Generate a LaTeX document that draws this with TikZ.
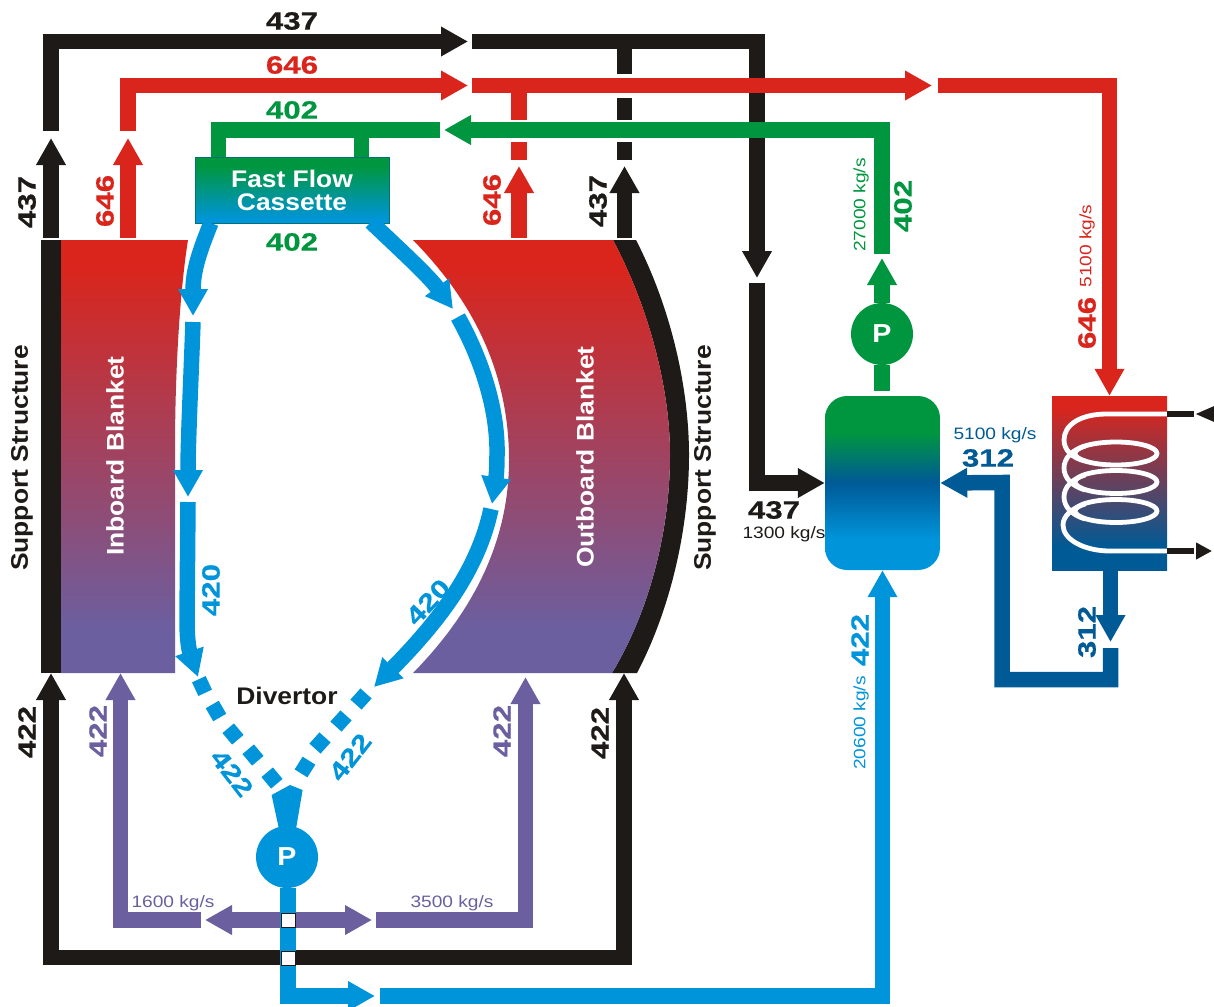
\documentclass[tikz,border=0pt]{standalone}
\usepackage{fontspec}
\setmainfont{Liberation Sans}
\newfontfamily\numf[BoldFeatures={FakeStretch=1.25,FakeBold=0.6}]{Liberation Sans}
\newfontfamily\labf[BoldFeatures={FakeStretch=1.1}]{Liberation Sans}
\newfontfamily\smlf[FakeStretch=1.16]{Liberation Sans}
\usetikzlibrary{arrows.meta}
\definecolor{cred}{HTML}{DA251C}
\definecolor{cblk}{HTML}{1D1A18}
\definecolor{cgrn}{HTML}{009640}
\definecolor{clbl}{HTML}{0095DB}
\definecolor{cdbl}{HTML}{005A96}
\definecolor{cpur}{HTML}{6B5FA0}
\pgfdeclareverticalshading{blanketsh}{100bp}{color(0bp)=(cpur); color(30bp)=(cpur); color(72bp)=(cred); color(100bp)=(cred)}
\pgfdeclareverticalshading{cassettesh}{100bp}{color(0bp)=(clbl); color(27bp)=(clbl); color(68bp)=(cgrn); color(100bp)=(cgrn)}
\pgfdeclareverticalshading{tanksh}{100bp}{color(0bp)=(clbl); color(33.6bp)=(clbl); color(50.3bp)=(cdbl); color(64.4bp)=(cgrn); color(100bp)=(cgrn)}
\pgfdeclareverticalshading{hxsh}{100bp}{color(0bp)=(cdbl); color(31.6bp)=(cdbl); color(71.8bp)=(cred); color(100bp)=(cred)}
\tikzset{
  pipe/.style={line width=15.5pt,line join=miter,line cap=butt},
  tipped/.style={pipe,-{Triangle[length=27pt,width=28pt]}},
  both/.style={pipe,{Triangle[length=27pt,width=28pt]}-{Triangle[length=27pt,width=28pt]}},
  num/.style={font=\numf\bfseries\fontsize{25}{25}\selectfont,inner sep=0pt},
  lab/.style={font=\labf\bfseries\fontsize{24}{24}\selectfont,inner sep=0pt},
  sml/.style={font=\smlf\fontsize{16.5}{17}\selectfont,inner sep=0pt},
  pump/.style={circle,minimum size=62pt,inner sep=0pt,text=white,font=\labf\bfseries\fontsize{26}{26}\selectfont},
  dia/.style={fill=clbl,minimum size=15pt,inner sep=0pt},
  gap/.style={fill=white,draw=cblk,line width=0.3pt,minimum size=14.5pt,inner sep=0pt},
  coil/.style={white,line width=4.8pt,line join=round},
}
\begin{document}
\begin{tikzpicture}[x=1pt,y=-1pt]
\useasboundingbox (0,0) rectangle (1214,1006);
% blankets
\fill[cblk] (41,240) rectangle (61,673);
\shade[shading=blanketsh] (61,240) -- (188,240) .. controls (180,290) and (175,370) .. (175,450) -- (175,673) -- (61,673) -- cycle;
\fill[cblk] (613,240) -- (636,240) .. controls (672,310) and (689,390) .. (689,455) .. controls (689,530) and (670,610) .. (637,673) -- (612,673) .. controls (650,610) and (670,530) .. (670,455) .. controls (670,390) and (650,310) .. (613,240) -- cycle;
\shade[shading=blanketsh] (413,240) .. controls (462,290) and (509,360) .. (509,460) .. controls (509,550) and (465,620) .. (413,673) -- (612,673) .. controls (650,610) and (670,530) .. (670,455) .. controls (670,390) and (650,310) .. (613,240) -- cycle;
% equipment
\node[shading=cassettesh,draw=cdbl!60!cgrn,line width=0.6pt,minimum width=194pt,minimum height=66pt,inner sep=0pt,align=center,text=white,font=\labf\bfseries\fontsize{24}{23}\selectfont] (ffc) at (292,190) {Fast Flow\\Cassette};
\node[shading=tanksh,rounded corners=22pt,minimum width=115pt,minimum height=174pt,inner sep=0pt] (tank) at (882.5,483) {};
\node[shading=hxsh,minimum width=115pt,minimum height=174pt,inner sep=0pt] (hx) at (1109.5,483) {};
\node[pump,fill=cgrn] (pg) at (882,334) {P};
\node[pump,fill=clbl] (pb) at (287,857) {P};
% coil
\draw[coil] (1116,453.5) ellipse [x radius=41,y radius=11.5];
\draw[coil] (1116,482) ellipse [x radius=41,y radius=11.5];
\draw[coil] (1116,511) ellipse [x radius=41,y radius=11.5];
\draw[coil] (1167,414) -- (1107,414) .. controls (1080,414) and (1064,425) .. (1064,440) .. controls (1064,450) and (1072,458) .. (1085,461);
\draw[coil] (1085,446) .. controls (1072,450) and (1064,458) .. (1064,468) .. controls (1064,478) and (1072,486) .. (1085,490);
\draw[coil] (1085,475) .. controls (1072,479) and (1064,487) .. (1064,497) .. controls (1064,507) and (1072,515) .. (1085,519);
\draw[coil] (1085,504) .. controls (1072,508) and (1063,516) .. (1063,525) .. controls (1063,540) and (1085,551) .. (1110,551) -- (1167,551);
% named ends
\coordinate (bA) at (51,131);
\coordinate (bB) at (51,41.5);
\coordinate (bC) at (468,41.5);
\coordinate (bD) at (472,41.5);
\coordinate (bE) at (757,41.5);
\coordinate (bF) at (757,278);
\coordinate (bG) at (757,283);
\coordinate (bI) at (51,238);
\coordinate (bJ) at (51,138);
\coordinate (bbL) at (51,673);
\coordinate (bbR) at (624,673);
\coordinate (bbM) at (51,957.5);
\coordinate (bbN) at (624,957.5);
\coordinate (rA) at (128,131);
\coordinate (rB) at (128,85.5);
\coordinate (rC) at (468,85.5);
\coordinate (rD) at (472,85.5);
\coordinate (rE) at (932,85.5);
\coordinate (rF) at (938,85.5);
\coordinate (rG) at (1109.5,85.5);
\coordinate (rI) at (128,238);
\coordinate (rJ) at (128,138);
\coordinate (rK) at (519,238);
\coordinate (rL) at (519,166);
\coordinate (rM) at (519,160);
\coordinate (rN) at (519,142);
\coordinate (rO) at (519,120);
\coordinate (rP) at (519,85.5);
\coordinate (kK) at (624.5,238);
\coordinate (kL) at (624.5,166);
\coordinate (kM) at (624.5,160);
\coordinate (kN) at (624.5,142);
\coordinate (kO) at (624.5,120);
\coordinate (kQ) at (624.5,98);
\coordinate (kR) at (624.5,74);
\coordinate (kP) at (624.5,41.5);
\coordinate (gA) at (882,254);
\coordinate (gB) at (882,130);
\coordinate (gC) at (444,130);
\coordinate (gD) at (439.5,130);
\coordinate (gE) at (218.5,130);
\coordinate (gF) at (361.5,130);
\coordinate (gT) at (882,258);
\coordinate (gU) at (882,391);
\coordinate (dA) at (1110.5,642);
\coordinate (dB) at (1110.5,648);
\coordinate (dC) at (1110.5,679.5);
\coordinate (dD) at (1002,679.5);
\coordinate (dE) at (1002,482.5);
\coordinate (lA) at (288,996);
\coordinate (lB) at (375,996);
\coordinate (lC) at (380,996);
\coordinate (pA) at (120.5,920);
\coordinate (pB) at (200.5,920);
\coordinate (pC) at (120.5,673);
\coordinate (pD) at (376,920);
\coordinate (pE) at (525.5,920);
\coordinate (pF) at (525.5,677);
\coordinate (pG) at (205,920);
\coordinate (pH) at (372,920);
\coordinate (s1) at (1194,414);
\coordinate (s2) at (1195,414);
\coordinate (s3) at (1218,414);
\coordinate (s4) at (1194,551);
\coordinate (s5) at (1196,551);
\coordinate (s6) at (1212,551);
\coordinate (fA) at (271.6,795);
\coordinate (fB) at (290,785);
\coordinate (fC) at (302.6,790);
\coordinate (fD) at (296,829);
\coordinate (fE) at (279,829);
% black
\draw[tipped,cblk] (bA) -- (bB) -- (bC);
\draw[tipped,cblk] (bI) -- (bJ);
\draw[tipped,cblk] (bD) -- (bE) -- (bF);
\draw[tipped,cblk] (bG) |- (tank.west);
\draw[pipe,cblk] (kP) -- (kR);
\draw[pipe,cblk] (kQ) -- (kO);
\draw[pipe,cblk] (kN) -- (kM);
\draw[tipped,cblk] (kK) -- (kL);
\draw[tipped,cblk] (bbM) -- (bbL);
\draw[tipped,cblk] (bbN) -- (bbR);
\draw[pipe,cblk,line cap=rect] (bbM) -- (bbN);
% red
\draw[tipped,cred] (rA) -- (rB) -- (rC);
\draw[tipped,cred] (rI) -- (rJ);
\draw[tipped,cred] (rD) -- (rE);
\draw[tipped,cred] (rF) -- (rG) -- (hx.north);
\draw[pipe,cred] (rP) -- (rO);
\draw[pipe,cred] (rN) -- (rM);
\draw[tipped,cred] (rK) -- (rL);
% green
\draw[pipe,cgrn] (gE |- ffc.north) -- (gE) -- (gD);
\draw[pipe,cgrn] (gF) -- (gF |- ffc.north);
\draw[tipped,cgrn] (gA) -- (gB) -- (gC);
\draw[tipped,cgrn] (pg.north) -- (gT);
\draw[pipe,cgrn] (pg.south) -- (gU);
% purple
\draw[tipped,cpur] (pB) -- (pA) -- (pC);
\draw[tipped,cpur] (pD) -- (pE) -- (pF);
\draw[both,cpur] (pG) -- (pH);
% light blue
\fill[clbl] (fA) -- (fB) -- (fC) -- (fD) -- (fE) -- cycle;
\draw[tipped,clbl] (pb.south -| lA) |- (lB);
\draw[tipped,clbl] (lC) -| (tank.south);
\node[gap] (w1) at (288,920) {};
\node[gap] (w2) at (288,958) {};
% dark blue
\draw[tipped,cdbl] (hx.south -| dA) -- (dA);
\draw[tipped,cdbl] (dB) -- (dC) -- (dD) -- (dE) -- (tank.east);
% blue cassette flows
\coordinate (cL) at (211,223);
\coordinate (cR) at (371,222);
\draw[tipped,clbl] (cL) .. controls (200,250) and (193,270) .. (193,316);
\draw[tipped,clbl] (193,322) .. controls (191,380) and (188,440) .. (188,497);
\draw[tipped,clbl] (188,502) -- (187,620) .. controls (187,640) and (189,650) .. (198,677);
\draw[tipped,clbl] (cR) .. controls (395,245) and (428,275) .. (453,309);
\draw[pipe,clbl] (458,317) .. controls (482,360) and (498,410) .. (497,455);
\draw[tipped,clbl] (497,455) .. controls (497,470) and (496,478) .. (492,504);
\draw[tipped,clbl] (491,509) .. controls (478,570) and (440,620) .. (374,687);
% divertor dashes
\node[dia,rotate=25] (dl1) at (202,686) {};
\node[dia,rotate=30] (dl2) at (216,711) {};
\node[dia,rotate=40] (dl3) at (233,734) {};
\node[dia,rotate=40] (dl4) at (253,755) {};
\node[dia,rotate=40] (dl5) at (272,778) {};
\node[dia,rotate=48] (dr1) at (361,699) {};
\node[dia,rotate=48] (dr2) at (341,721) {};
\node[dia,rotate=48] (dr3) at (320,743) {};
\node[dia,rotate=58] (dr4) at (305,767) {};
% stubs
\draw[cblk,line width=5.5pt] (hx.east |- s1) -- (s1);
\draw[cblk,line width=5.5pt] (hx.east |- s4) -- (s4);
\draw[cblk,line width=5pt,{Triangle[length=20pt,width=15pt]}-] (s2) -- (s3);
\draw[cblk,line width=5pt,-{Triangle[length=16pt,width=16pt]}] (s5) -- (s6);
% labels
\node[num,text=cblk] (t1) at (292,21) {437};
\node[num,text=cred] (t2) at (292,65) {646};
\node[num,text=cgrn] (t3) at (292,110) {402};
\node[num,text=cgrn] (t4) at (292,242) {402};
\node[num,text=cblk,rotate=90] (t5) at (27,202) {437};
\node[num,text=cred,rotate=90] (t6) at (105,201) {646};
\node[num,text=cred,rotate=90] (t7) at (492,200) {646};
\node[num,text=cblk,rotate=90] (t8) at (598,201) {437};
\node[num,text=cgrn,rotate=90] (t9) at (903,206) {402};
\node[sml,text=cgrn,rotate=90] (t10) at (861,205) {27000 kg/s};
\node[sml,text=cred,rotate=90] (t11) at (1087,246) {5100 kg/s};
\node[num,text=cred,rotate=90] (t12) at (1087,323) {646};
\node[lab,text=cblk,rotate=90] (t13) at (22,458) {Support Structure};
\node[lab,text=white,rotate=90] (t14) at (115,456) {Inboard Blanket};
\node[lab,text=white,rotate=90] (t15) at (585,457) {Outboard Blanket};
\node[lab,text=cblk,rotate=90] (t16) at (705,458) {Support Structure};
\node[num,text=clbl,rotate=90] (t17) at (211,590) {420};
\node[num,text=clbl,rotate=47] (t18) at (428,602) {420};
\node[lab,text=cblk] (t19) at (287,696) {Divertor};
\node[num,text=cblk,rotate=90] (t20) at (27,732) {422};
\node[num,text=cpur,rotate=90] (t21) at (98,731) {422};
\node[num,text=cpur,rotate=90] (t22) at (502,731) {422};
\node[num,text=cblk,rotate=90] (t23) at (600,733) {422};
\node[num,text=clbl,rotate=-52] (t24) at (232,773) {422};
\node[num,text=clbl,rotate=52] (t25) at (350,757) {422};
\node[sml,text=cpur] (t26) at (173,903) {1600 kg/s};
\node[sml,text=cpur] (t27) at (452,903) {3500 kg/s};
\node[sml,text=clbl,rotate=90] (t28) at (861,723) {20600 kg/s};
\node[num,text=clbl,rotate=90] (t29) at (860,640) {422};
\node[num,text=cblk] (t30) at (774,510) {437};
\node[sml,text=cblk] (t31) at (784,534) {1300 kg/s};
\node[sml,text=cdbl] (t32) at (995,435) {5100 kg/s};
\node[num,text=cdbl] (t33) at (988,458) {312};
\node[num,text=cdbl,rotate=90] (t34) at (1087,632) {312};
\end{tikzpicture}
\end{document}
